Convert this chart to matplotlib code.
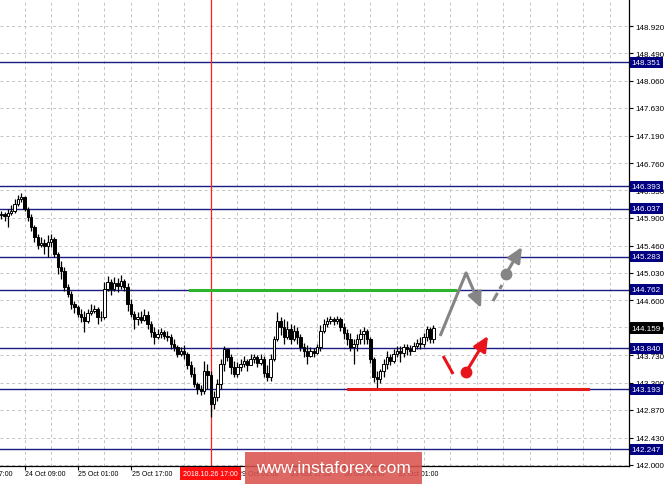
import matplotlib
matplotlib.use("Agg")
import matplotlib.pyplot as plt
from matplotlib.patches import Rectangle
from matplotlib.transforms import blended_transform_factory

# H1 bars, index 0 = 24 Oct 09:00
bars = list(range(-7, 124))
first_open = 145.941
closes = [
    145.957, 145.925, 145.972, 146.004, 146.114, 146.193, 146.225,
    146.035, 145.909, 145.752, 145.594, 145.468, 145.500, 145.452, 145.515, 145.563, 145.326,
    145.121, 145.058, 144.806, 144.695, 144.538, 144.491, 144.380, 144.333, 144.270, 144.396,
    144.428, 144.459, 144.333, 144.333, 144.774, 144.885, 144.774, 144.869, 144.822, 144.900,
    144.806, 144.538, 144.380, 144.301, 144.333, 144.286, 144.364, 144.223, 144.097, 144.018,
    144.065, 144.097, 144.034, 144.018, 143.907, 143.860, 143.750, 143.797, 143.750, 143.576,
    143.434, 143.277, 143.198, 143.166, 143.482, 143.419, 142.962, 143.072, 143.277, 143.592,
    143.828, 143.702, 143.545, 143.434, 143.545, 143.592, 143.639, 143.576, 143.671, 143.702,
    143.608, 143.671, 143.450, 143.387, 143.671, 143.986, 144.270, 144.175, 144.018, 144.144,
    143.986, 144.112, 144.018, 143.860, 143.797, 143.718, 143.797, 143.765, 143.860, 144.112,
    144.223, 144.270, 144.301, 144.270, 144.301, 144.175, 144.081, 143.986, 143.860, 143.907,
    143.986, 144.065, 144.112, 143.986, 143.671, 143.387, 143.356, 143.482, 143.592, 143.702,
    143.639, 143.750, 143.797, 143.765, 143.860, 143.828, 143.797, 143.876, 143.923, 143.907,
    144.018, 144.144, 143.986, 144.159,
]
highs = [
    146.004, 145.988, 146.035, 146.098, 146.193, 146.256, 146.288,
    146.240, 146.067, 145.957, 145.783, 145.641, 145.594, 145.563, 145.626, 145.641, 145.594,
    145.358, 145.216, 145.121, 144.853, 144.743, 144.585, 144.522, 144.459, 144.428, 144.459,
    144.538, 144.522, 144.491, 144.428, 144.885, 144.979, 144.932, 144.963, 144.948, 144.995,
    144.932, 144.869, 144.617, 144.428, 144.412, 144.428, 144.459, 144.428, 144.270, 144.175,
    144.144, 144.160, 144.128, 144.112, 144.065, 143.986, 143.892, 143.860, 143.892, 143.781,
    143.639, 143.545, 143.308, 143.261, 143.639, 143.592, 143.482, 143.166, 143.356, 143.671,
    143.876, 143.828, 143.750, 143.639, 143.624, 143.671, 143.718, 143.671, 143.750, 143.750,
    143.734, 143.750, 143.718, 143.576, 143.750, 144.034, 144.412, 144.333, 144.301, 144.270,
    144.223, 144.207, 144.175, 144.065, 143.923, 143.892, 143.860, 143.844, 143.907, 144.207,
    144.301, 144.333, 144.349, 144.333, 144.349, 144.333, 144.238, 144.144, 144.081, 143.986,
    144.065, 144.144, 144.175, 144.144, 144.018, 143.702, 143.482, 143.513, 143.671, 143.797,
    143.750, 143.828, 143.876, 143.876, 143.907, 143.907, 143.892, 143.939, 143.986, 144.018,
    144.081, 144.191, 144.175, 144.207,
]
lows = [
    145.878, 145.846, 145.752, 145.941, 145.972, 146.083, 146.146,
    146.004, 145.846, 145.689, 145.515, 145.405, 145.437, 145.326, 145.279, 145.437, 145.279,
    145.011, 144.932, 144.743, 144.648, 144.459, 144.396, 144.333, 144.254, 144.097, 144.238,
    144.364, 144.396, 144.223, 144.270, 144.301, 144.743, 144.680, 144.743, 144.727, 144.774,
    144.743, 144.428, 144.333, 144.144, 144.207, 144.238, 144.270, 144.144, 144.018, 143.907,
    143.986, 144.002, 143.986, 143.955, 143.828, 143.797, 143.702, 143.718, 143.671, 143.513,
    143.387, 143.230, 143.119, 143.103, 143.119, 143.198, 142.757, 142.883, 143.009, 143.198,
    143.482, 143.639, 143.434, 143.387, 143.387, 143.482, 143.545, 143.482, 143.576, 143.608,
    143.545, 143.576, 143.387, 143.324, 143.324, 143.639, 143.955, 144.049, 143.907, 143.986,
    143.907, 143.955, 143.907, 143.797, 143.702, 143.592, 143.702, 143.702, 143.750, 143.797,
    144.081, 144.175, 144.223, 144.207, 144.223, 144.112, 143.986, 143.892, 143.797, 143.592,
    143.797, 143.907, 143.907, 143.907, 143.608, 143.308, 143.214, 143.293, 143.387, 143.513,
    143.576, 143.608, 143.702, 143.624, 143.702, 143.734, 143.734, 143.797, 143.828, 143.828,
    143.860, 143.955, 143.923, 143.923,
]
opens = [first_open] + closes[:-1]

levels = [148.351, 146.393, 146.037, 145.283, 144.762, 143.840, 143.193, 142.247]
last_price = 144.159
y_ticks = [142.000, 142.430, 142.870, 143.300, 143.730, 144.170, 144.600, 145.030,
           145.460, 145.900, 146.330, 146.760, 147.190, 147.630, 148.060, 148.490, 148.920]
time_labels = ["23 Oct 17:00", "24 Oct 09:00", "25 Oct 01:00", "25 Oct 17:00", "26 Oct 09:00",
               "29 Oct 01:00", "29 Oct 17:00", "30 Oct 09:00", "31 Oct 01:00"]
time_label_bars = [-16, 0, 16, 32, 48, 64, 80, 96, 112]
cursor_bar = 56
cursor_label = "2018.10.26 17:00"

# drawn forecast
green_level = (49.8, 129.5, 144.762)
red_level = (97.3, 169.5, 143.193)
gray_path = [(125.0, 144.034), (132.8, 145.027), (137.3, 144.475)]
gray_dash = [(140.9, 144.585), (143.6, 144.837)]
gray_dot, gray_tip = (144.8, 145.011), (149.6, 145.437)
red_dash = [(125.9, 143.718), (128.9, 143.434)]
red_dot, red_tip = (132.8, 143.466), (139.4, 144.034)

W, H = 665, 485
fig = plt.figure(figsize=(W / 100, H / 100), dpi=100)
ax = fig.add_axes([0, 18 / H, 629 / W, 467 / H])
ax.set_xlim(-7.37, 181.8)
ax.set_ylim(141.984, 149.346)

for s in ["top", "left"]:
    ax.spines[s].set_visible(False)
for s in ["right", "bottom"]:
    ax.spines[s].set_linewidth(0.9)

# grid
for gy in y_ticks:
    ax.axhline(gy, color="#c4c4c4", ls=(0, (3, 3)), lw=0.7, zorder=0)
for gx in range(0, 182, 8):
    ax.axvline(gx, color="#c4c4c4", ls=(0, (3, 3)), lw=0.7, zorder=0)

for lv in levels:
    ax.axhline(lv, color="#1c1c86", lw=1.0, zorder=1)

ax.axvline(cursor_bar, color="#ff2020", lw=0.9, zorder=1)

# candles
for x, o, h, l, c in zip(bars, opens, highs, lows, closes):
    ax.plot([x, x], [l, h], color="black", lw=0.9, zorder=3, solid_capstyle="butt")
    bull = c >= o
    ax.add_patch(Rectangle((x - 0.36, min(o, c)), 0.72, max(abs(c - o), 0.004),
                           facecolor="white" if bull else "black", edgecolor="black",
                           lw=0.7, zorder=4))

# levels drawn by analyst
ax.plot(green_level[:2], [green_level[2]] * 2, color="#2cb52c", lw=2.2, zorder=5)
ax.plot(red_level[:2], [red_level[2]] * 2, color="#e41c1c", lw=2.2, zorder=5)

gray = "#858585"
red = "#e8141c"
head = "-|>,head_length=0.9,head_width=0.42"
ax.plot(*zip(*gray_path[:2]), color=gray, lw=2.2, zorder=6, solid_capstyle="butt")
ax.annotate("", xy=gray_path[2], xytext=gray_path[1],
            arrowprops=dict(arrowstyle=head, color=gray, lw=2.2, shrinkA=0, shrinkB=0), zorder=6)
ax.plot(*zip(*gray_dash), color=gray, lw=2.2, ls=(0, (3, 1.5)), zorder=6)
ax.plot(*gray_dot, "o", color=gray, ms=7.5, zorder=7)
ax.annotate("", xy=gray_tip, xytext=gray_dot,
            arrowprops=dict(arrowstyle=head, color=gray, lw=2.2, shrinkA=0, shrinkB=0), zorder=6)
ax.plot(*zip(*red_dash), color=red, lw=2.2, zorder=6, solid_capstyle="butt")
ax.plot(*red_dot, "o", color=red, ms=7.5, zorder=7)
ax.annotate("", xy=red_tip, xytext=red_dot,
            arrowprops=dict(arrowstyle=head, color=red, lw=2.2, shrinkA=0, shrinkB=0), zorder=6)

# axes ticks
font = "Liberation Sans"
ysize, xsize = 5.8, 5.0
ax.yaxis.tick_right()
ax.set_yticks(y_ticks)
ax.set_yticklabels([f"{v:.3f}" for v in y_ticks], family=font, fontsize=ysize)
ax.tick_params(axis="y", length=3, width=0.8, pad=1.5)
ax.set_xticks(time_label_bars[1:])
ax.set_xticklabels([])
ax.tick_params(axis="x", length=3, width=0.8)

for b, lab in zip(time_label_bars, time_labels):
    ax.annotate(lab, xy=(b, 0), xycoords=("data", "axes fraction"), xytext=(0.5, -3),
                textcoords="offset points", ha="left", va="top", fontsize=xsize,
                family=font, annotation_clip=False)

ax.annotate(cursor_label, xy=(cursor_bar, 0), xycoords=("data", "axes fraction"),
            xytext=(0, -3), textcoords="offset points", ha="center", va="top",
            fontsize=xsize, color="white", family=font, annotation_clip=False,
            bbox=dict(boxstyle="square,pad=0.45", fc="#ff1010", ec="none"), zorder=8)

trans = blended_transform_factory(ax.transAxes, ax.transData)
for lv in levels:
    ax.text(1.004, lv, f"{lv:.3f}", transform=trans, color="white", fontsize=ysize,
            family=font, ha="left", va="center", clip_on=False,
            bbox=dict(boxstyle="square,pad=0.25", fc="#000080", ec="none"), zorder=8)
ax.text(1.004, last_price, f"{last_price:.3f}", transform=trans, color="white", fontsize=ysize,
        family=font, ha="left", va="center", clip_on=False,
        bbox=dict(boxstyle="square,pad=0.3", fc="black", ec="none"), zorder=8)

# watermark
fig.patches.append(Rectangle((245 / W, 0), 177 / W, 32 / H, transform=fig.transFigure,
                             facecolor="#d9534f", alpha=0.88, edgecolor="none", zorder=10))
fig.text(333 / W, 16 / H, "www.instaforex.com", color="white", fontsize=12.5,
         family=["Liberation Sans", "DejaVu Sans"], ha="center", va="center", zorder=11)

fig.savefig("out.png", dpi=100)
